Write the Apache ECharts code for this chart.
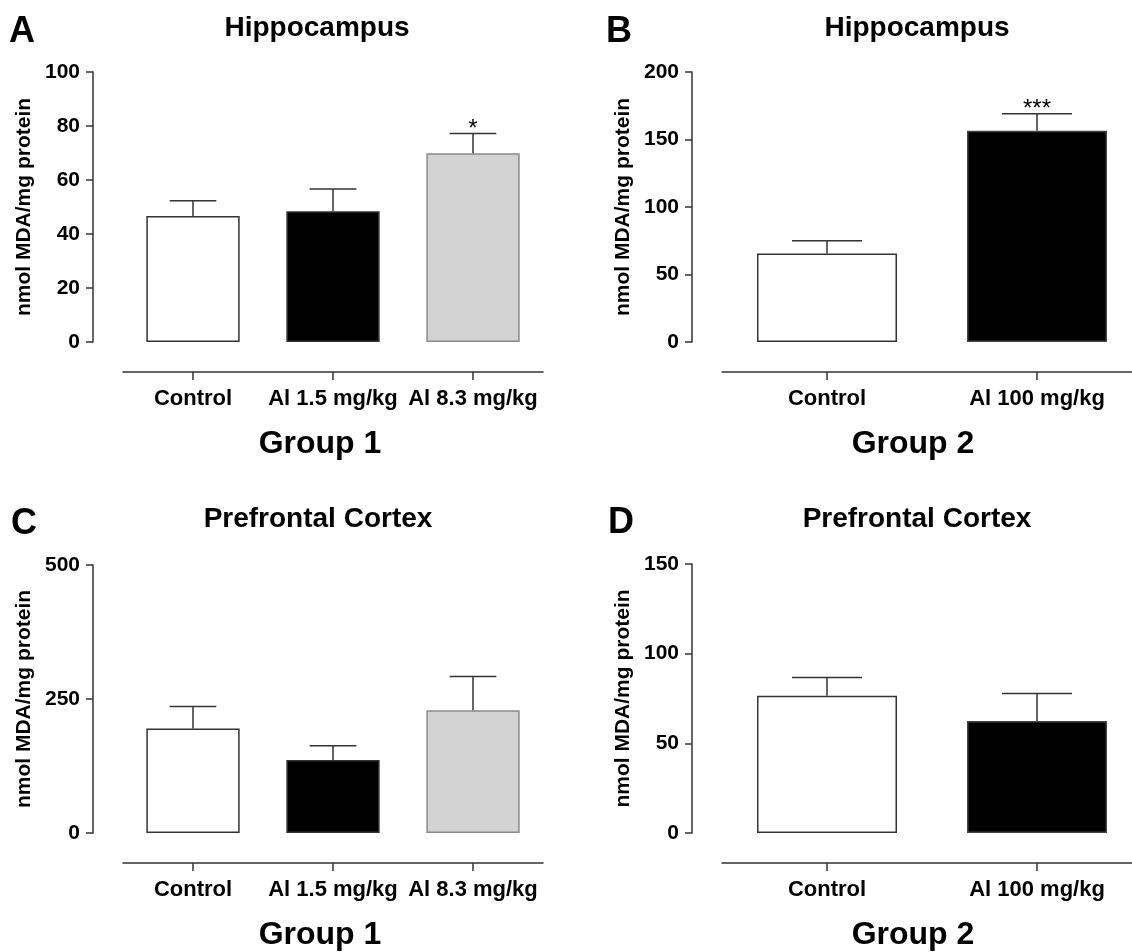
<!DOCTYPE html>
<html>
<head>
<meta charset="utf-8">
<script src="https://cdn.jsdelivr.net/npm/echarts@6/dist/echarts.min.js"></script>
<style>
html,body{margin:0;padding:0;background:#fff;overflow:hidden;width:1132px;height:952px;}
#chart{width:1170px;height:952px;}
</style>
</head>
<body>
<div id="chart"></div>
<script>
// ---- data ----
const categoriesG1 = ['Control', 'Al 1.5 mg/kg', 'Al 8.3 mg/kg'];
const categoriesG2 = ['Control', 'Al 100 mg/kg'];

const hippoG1Mean = [46.7, 48.4, 69.9];
const hippoG1Err  = [5.6, 8.3, 7.3];
const hippoG1Sig  = ['', '', '*'];

const hippoG2Mean = [65.6, 156.4];
const hippoG2Err  = [9.4, 12.6];
const hippoG2Sig  = ['', '***'];

const pfcG1Mean = [195, 136, 229];
const pfcG1Err  = [41, 27, 63];
const pfcG1Sig  = ['', '', ''];

const pfcG2Mean = [76.5, 62.4];
const pfcG2Err  = [10.2, 15.4];
const pfcG2Sig  = ['', ''];

const yTicksA = {min: 0, max: 100, interval: 20};
const yTicksB = {min: 0, max: 200, interval: 50};
const yTicksC = {min: 0, max: 500, interval: 250};
const yTicksD = {min: 0, max: 150, interval: 50};

const yName = 'nmol MDA/mg protein';

// ---- styles ----
const FONT = '"Liberation Sans", Arial, Helvetica, sans-serif';
const AX = '#333333';
const fillsG1 = [
  {color: '#ffffff', borderColor: '#333333'},
  {color: '#000000', borderColor: '#333333'},
  {color: '#d3d3d3', borderColor: '#8a8a8a'}
];
const fillsG2 = [
  {color: '#ffffff', borderColor: '#333333'},
  {color: '#000000', borderColor: '#444444'}
];

const grids = [
  {left: 123, top: 72, width: 420, height: 270},
  {left: 722, top: 72, width: 420, height: 270},
  {left: 123, top: 565, width: 420, height: 268},
  {left: 722, top: 564, width: 420, height: 269}
];

function xAxisCfg(gi, cats) {
  return {
    type: 'category', gridIndex: gi, data: cats, offset: 30,
    axisLine: {show: true, onZero: false, lineStyle: {color: AX, width: 1.5}},
    axisTick: {show: true, alignWithLabel: true, inside: false, length: 8, lineStyle: {color: AX, width: 1.5}},
    axisLabel: {interval: 0, margin: 16, color: '#000', fontSize: 22, fontWeight: 'bold', fontFamily: FONT},
    splitLine: {show: false}
  };
}
function yAxisCfg(gi, t) {
  return {
    type: 'value', gridIndex: gi, min: t.min, max: t.max, interval: t.interval, offset: 30,
    name: yName, nameLocation: 'middle', nameGap: 58,
    nameTextStyle: {color: '#000', fontSize: 21, fontWeight: 'bold', fontFamily: FONT},
    axisLine: {show: true, lineStyle: {color: AX, width: 1.5}},
    axisTick: {show: true, inside: false, length: 7, lineStyle: {color: AX, width: 1.5}},
    axisLabel: {margin: 13, color: '#000', fontSize: 21, fontWeight: 'bold', fontFamily: FONT},
    splitLine: {show: false}
  };
}

function barSeries(gi, means, fills) {
  return {
    type: 'bar', xAxisIndex: gi, yAxisIndex: gi, barWidth: '66.67%',
    data: means.map((v, i) => ({value: v, itemStyle: {color: fills[i].color, borderColor: fills[i].borderColor, borderWidth: 1.5}})),
    silent: true, animation: false, z: 2
  };
}

function errSeries(gi, means, errs, sigs) {
  return {
    type: 'custom', xAxisIndex: gi, yAxisIndex: gi, z: 3, animation: false, silent: true,
    data: means.map((m, i) => [i, m, errs[i]]),
    encode: {x: 0, y: 1},
    renderItem: function (params, api) {
      const x = api.value(0), m = api.value(1), e = api.value(2);
      const base = api.coord([x, m]);
      const top = api.coord([x, m + e]);
      const band = api.size([1, 0])[0];
      const half = band / 6;
      const st = {stroke: AX, lineWidth: 1.5};
      const children = [
        {type: 'line', shape: {x1: base[0], y1: base[1], x2: top[0], y2: top[1]}, style: st},
        {type: 'line', shape: {x1: top[0] - half, y1: top[1], x2: top[0] + half, y2: top[1]}, style: st}
      ];
      const s = sigs[params.dataIndex];
      if (s) {
        children.push({type: 'text', style: {text: s, x: top[0], y: top[1] - 4, align: 'center', verticalAlign: 'middle',
          font: '24px ' + FONT, fill: '#000'}});
      }
      return {type: 'group', children: children};
    }
  };
}

function txt(s, x, y, size, align) {
  return {type: 'text', x: x, y: y, silent: true,
    style: {text: s, font: 'bold ' + size + 'px ' + FONT, fill: '#000', align: align || 'center', verticalAlign: 'middle'}};
}

const option = {
  backgroundColor: '#ffffff',
  animation: false,
  grid: grids,
  xAxis: [xAxisCfg(0, categoriesG1), xAxisCfg(1, categoriesG2), xAxisCfg(2, categoriesG1), xAxisCfg(3, categoriesG2)],
  yAxis: [yAxisCfg(0, yTicksA), yAxisCfg(1, yTicksB), yAxisCfg(2, yTicksC), yAxisCfg(3, yTicksD)],
  series: [
    barSeries(0, hippoG1Mean, fillsG1), errSeries(0, hippoG1Mean, hippoG1Err, hippoG1Sig),
    barSeries(1, hippoG2Mean, fillsG2), errSeries(1, hippoG2Mean, hippoG2Err, hippoG2Sig),
    barSeries(2, pfcG1Mean, fillsG1), errSeries(2, pfcG1Mean, pfcG1Err, pfcG1Sig),
    barSeries(3, pfcG2Mean, fillsG2), errSeries(3, pfcG2Mean, pfcG2Err, pfcG2Sig)
  ],
  graphic: [
    txt('A', 9, 32, 36, 'left'),
    txt('Hippocampus', 317, 28, 28),
    txt('B', 606, 32, 36, 'left'),
    txt('Hippocampus', 917, 28, 28),
    txt('C', 11, 524, 36, 'left'),
    txt('Prefrontal Cortex', 318, 519, 28),
    txt('D', 608, 523, 36, 'left'),
    txt('Prefrontal Cortex', 917, 519, 28),
    txt('Group 1', 320, 444, 32),
    txt('Group 2', 913, 444, 32),
    txt('Group 1', 320, 935, 32),
    txt('Group 2', 913, 935, 32)
  ]
};

const chart = echarts.init(document.getElementById('chart'), null, {renderer: 'canvas'});
chart.setOption(option);
</script>
</body>
</html>
